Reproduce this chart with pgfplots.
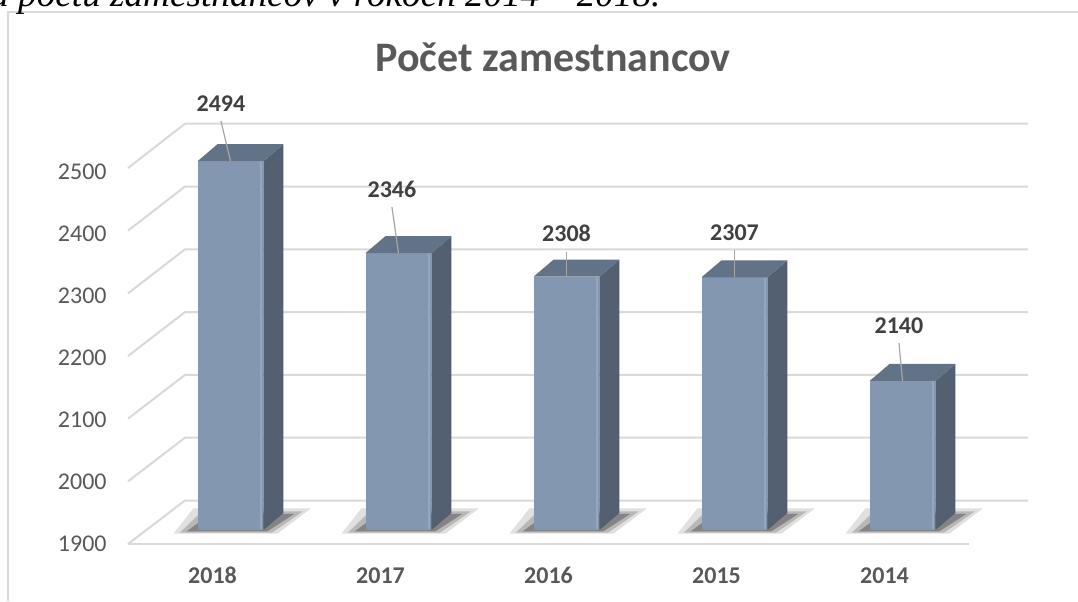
\documentclass[border=0pt]{standalone}
\usepackage{pgfplots}
\pgfplotsset{compat=1.18}
\usepackage{pgfplotstable}
\usepackage{fontspec}
\setmainfont{Carlito}
\newfontfamily\serifit{Liberation Serif}
\definecolor{front}{HTML}{8497B0}
\definecolor{frontedge}{HTML}{95A7BF}
\definecolor{side}{HTML}{536071}
\definecolor{topc}{HTML}{627387}
\definecolor{gridc}{HTML}{D9D9D9}
\definecolor{txt}{HTML}{595959}
\definecolor{lbl}{HTML}{404040}
\definecolor{leader}{HTML}{A6A6A6}

% x = category index, v = value, lx/ly = top of the leader line (label position)
\pgfplotstableread{
x v lx ly
0 2494 -0.057 2558.6
1 2346 0.961 2420
2 2308 2.0 2347.7
3 2307 3.0 2350.9
4 2140 3.979 2201
}\datatable

\begin{document}
\begin{tikzpicture}
\begin{axis}[
  scale only axis,
  width=539pt, height=300.5pt,
  xmin=-1.372, xmax=5.0446,
  ymin=1785.7, ymax=2753.5,
  clip=false,
  axis line style={draw=none},
  major tick length=0pt,
  tick style={draw=none},
  axis background/.style={fill=white},
  scaled y ticks=false,
  ytick={1900,2000,2100,2200,2300,2400,2500},
  yticklabels={1900,2000,2100,2200,2300,2400,2500},
  yticklabel style={font=\fontsize{12}{14}\selectfont, text=txt, anchor=east, inner sep=0pt, xshift=53.5pt, yshift=-7pt},
  xtick={0,1,2,3,4},
  xticklabels={2018,2017,2016,2015,2014},
  xticklabel style={font=\fontsize{12}{14}\selectfont\bfseries, text=txt, anchor=center, inner sep=0pt, xshift=-9pt, yshift=12.75pt},
]
\coordinate (bl) at (rel axis cs:0,0);
\coordinate (tr) at (rel axis cs:1,1);

% back wall gridlines + left wall diagonals
\pgfplotsinvokeforeach{1900,2000,2100,2200,2300,2400,2500}{
  \pgfmathsetmacro\vb{1947.5+(#1-1900)*1.0113}
  \pgfmathsetmacro\vf{1877.5+(#1-1900)*1.009}
  \edef\tmp{\noexpand\addplot[gridc, line width=1pt] coordinates {(-0.61,\vf) (-0.271,\vb) (4.746,\vb)};}
  \tmp
}
% front floor edge
\addplot[gridc, line width=1pt] coordinates {(-0.61,1877.5) (4.396,1877.5)};

% outer frame lines
\addplot[gridc, line width=0.6pt] coordinates {(-1.324,1785.7) (-1.324,2734.2) (5.0446,2734.2)};

% bars
\pgfplotsinvokeforeach{0,1,2,3,4}{
  \pgfplotstablegetelem{#1}{v}\of\datatable
  \let\val\pgfplotsretval
  \pgfplotstablegetelem{#1}{lx}\of\datatable
  \let\lxv\pgfplotsretval
  \pgfplotstablegetelem{#1}{ly}\of\datatable
  \let\lyv\pgfplotsretval
  \pgfmathsetmacro\xl{#1-0.196}
  \pgfmathsetmacro\xr{#1+0.196}
  \pgfmathsetmacro\xre{#1+0.182}
  \pgfmathsetmacro\xbr{#1+0.315}
  \pgfmathsetmacro\xbl{#1-0.077}
  \pgfmathsetmacro\vt{\val+27.4}
  % shadow (soft, layered)
  \pgfmathsetmacro\sa{#1-0.34}\pgfmathsetmacro\sb{#1+0.28}\pgfmathsetmacro\sc{#1+0.48}\pgfmathsetmacro\sd{#1-0.22}
  \pgfmathsetmacro\ta{#1-0.30}\pgfmathsetmacro\tb{#1+0.25}\pgfmathsetmacro\tc{#1+0.43}\pgfmathsetmacro\td{#1-0.17}
  \pgfmathsetmacro\ua{#1-0.26}\pgfmathsetmacro\ub{#1+0.22}\pgfmathsetmacro\uc{#1+0.38}\pgfmathsetmacro\ud{#1-0.12}
  \edef\tmp{%
    \noexpand\addplot[fill=black, fill opacity=0.12, draw=none] coordinates {(\sa,1894) (\sb,1894) (\sc,1935) (\sd,1935)} -- cycle;
    \noexpand\addplot[fill=black, fill opacity=0.18, draw=none] coordinates {(\ta,1896) (\tb,1896) (\tc,1930) (\td,1930)} -- cycle;
    \noexpand\addplot[fill=black, fill opacity=0.28, draw=none] coordinates {(\ua,1898) (\ub,1898) (\uc,1926) (\ud,1926)} -- cycle;
    \noexpand\addplot[fill=front, draw=none] coordinates {(\xl,1900) (\xr,1900) (\xr,\val) (\xl,\val)} -- cycle;
    \noexpand\addplot[frontedge, line width=0.8pt] coordinates {(\xre,1902) (\xre,\val)};
    \noexpand\addplot[fill=side, draw=none] coordinates {(\xr,1900) (\xbr,1927.4) (\xbr,\vt) (\xr,\val)} -- cycle;
    \noexpand\addplot[fill=topc, draw=none] coordinates {(\xl,\val) (\xr,\val) (\xbr,\vt) (\xbl,\vt)} -- cycle;
    \noexpand\addplot[leader, line width=0.6pt] coordinates {(\lxv,\lyv) (#1,\val)};
  }
  \tmp
}

% data labels
\addplot[draw=none, mark=none, nodes near coords, point meta=explicit symbolic,
  every node near coord/.style={anchor=base, yshift=5pt, inner sep=0pt, font=\fontsize{12}{14}\selectfont\bfseries, text=lbl}]
  table[x=lx, y=ly, meta=v] {\datatable};

% title
\node[anchor=base, text=txt, font=\fontsize{21}{25}\selectfont\bfseries, inner sep=0pt] at (axis cs:1.92,2638) {Počet zamestnancov};
% cut-off caption line above the chart
\node[anchor=base west, inner sep=0pt, font=\serifit\itshape\fontsize{18.6}{22}\selectfont] at (axis cs:-1.432,2743.8) {a počtu zamestnancov v rokoch 2014 – 2018.};
\end{axis}
\pgfresetboundingbox
\path[use as bounding box] (bl) rectangle (tr);
\end{tikzpicture}
\end{document}
